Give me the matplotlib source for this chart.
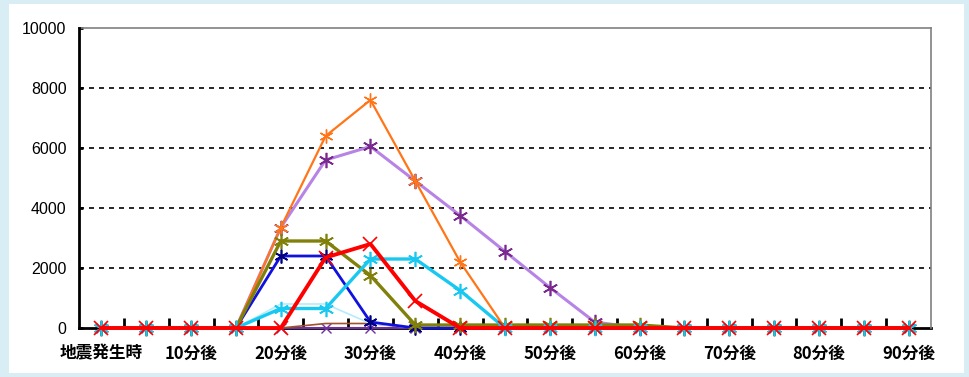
import matplotlib
matplotlib.use('Agg')
import matplotlib.pyplot as plt
from matplotlib.patches import Rectangle

# categories: every 5 minutes after the earthquake
categories = ['地震発生時', '5分後', '10分後', '15分後', '20分後', '25分後', '30分後',
              '35分後', '40分後', '45分後', '50分後', '55分後', '60分後', '65分後',
              '70分後', '75分後', '80分後', '85分後', '90分後']

dark_purple = [0] * 19
brown = [0, 0, 0, 0, 0, 150, 150, 0, 0, 0, 0, 0, 0, 0, 0, 0, 0, 0, 0]
pale_cyan = [0, 0, 0, 0, 800, 800, 150, 0, 0, 0, 0, 0, 0, 0, 0, 0, 0, 0, 0]
purple = [0, 0, 0, 0, 3350, 5600, 6050, 4900, 3750, 2550, 1350, 200, 0, 0, 0, 0, 0, 0, 0]
orange = [0, 0, 0, 0, 3350, 6400, 7600, 4900, 2200, 0, 0, 0, 0, 0, 0, 0, 0, 0, 0]
blue = [0, 0, 0, 0, 2400, 2400, 200, 0, 0, 0, 0, 0, 0, 0, 0, 0, 0, 0, 0]
olive = [0, 0, 0, 0, 2900, 2900, 1750, 100, 100, 100, 100, 100, 100, 0, 0, 0, 0, 0, 0]
cyan = [0, 0, 0, 0, 650, 650, 2300, 2300, 1250, 0, 0, 0, 0, 0, 0, 0, 0, 0, 0]
red = [0, 0, 0, 0, 0, 2350, 2800, 900, 0, 0, 0, 0, 0, 0, 0, 0, 0, 0, 0]

yticks = [0, 2000, 4000, 6000, 8000, 10000]

plt.rcParams['font.family'] = ['Noto Sans CJK JP', 'DejaVu Sans']

fig = plt.figure(figsize=(9.69, 3.77), dpi=100, facecolor='#d9edf5')
fig.patches.append(Rectangle((9 / 969, 0.01), 955 / 969, 0.98, transform=fig.transFigure,
                             facecolor='white', edgecolor='none', zorder=-5))
ax = fig.add_axes([79 / 969, 49 / 377, 852 / 969, 300 / 377])
ax.set_facecolor('white')

x = list(range(len(categories)))
star = (6, 2, 0)

ax.plot(x, dark_purple, color='#7030a0', lw=1.5, marker='x', ms=7, mew=1, zorder=3, clip_on=False)
ax.plot(x, brown, color='#a0522d', lw=1.2, zorder=3, clip_on=False)
ax.plot(x, pale_cyan, color='#b4ecfa', lw=1.2, zorder=3, clip_on=False)
ax.plot(x, purple, color='#b784e6', lw=2.2, marker=star, ms=11, mew=1.2,
        mec='#7a2a8f', zorder=4, clip_on=False)
ax.plot(x, orange, color='#ff7518', lw=1.6, marker=star, ms=10, mew=1, zorder=5, clip_on=False)
ax.plot(x, blue, color='#1010e0', lw=2, marker=star, ms=10, mew=1.2, mec='#000080', zorder=5,
        clip_on=False)
ax.plot(x, olive, color='#80800a', lw=2.4, marker=star, ms=11, mew=1.2, zorder=6, clip_on=False)
ax.plot(x, cyan, color='#18c8f0', lw=2.4, marker=star, ms=11, mew=1.2, zorder=6, clip_on=False)
ax.plot(x, red, color='#ff0000', lw=2.8, marker='x', ms=10, mew=1.2, zorder=7, clip_on=False)

ax.set_xlim(-0.5, len(categories) - 0.5)
ax.set_ylim(0, 10000)

# category axis: ticks between categories, labels every 10 minutes
ax.set_xticks([i + 0.5 for i in range(len(categories) - 1)])
ax.set_xticklabels([])
ax.set_xticks(x[::2], minor=True)
ax.set_xticklabels(categories[::2], minor=True, fontsize=12, fontweight='bold')
ax.tick_params(axis='x', which='major', direction='in', length=7, width=2, color='black')
ax.tick_params(axis='x', which='minor', length=0, pad=12)

ax.set_yticks(yticks)
ax.set_yticklabels([str(v) for v in yticks], family='Liberation Sans', fontsize=11.5)
ax.tick_params(axis='y', direction='in', length=3, width=2, pad=9)

for v in yticks[1:-1]:
    ax.axhline(v, color='black', lw=1.2, ls=(0, (3, 3)), zorder=1)

ax.spines['left'].set_linewidth(2)
ax.spines['bottom'].set_linewidth(2)
for s in ['top', 'right']:
    ax.spines[s].set_color('#808080')
    ax.spines[s].set_linewidth(1.2)

ax.spines['left'].set_zorder(8)
ax.spines['bottom'].set_zorder(2)

fig.savefig('out.png', dpi=100, facecolor=fig.get_facecolor())
